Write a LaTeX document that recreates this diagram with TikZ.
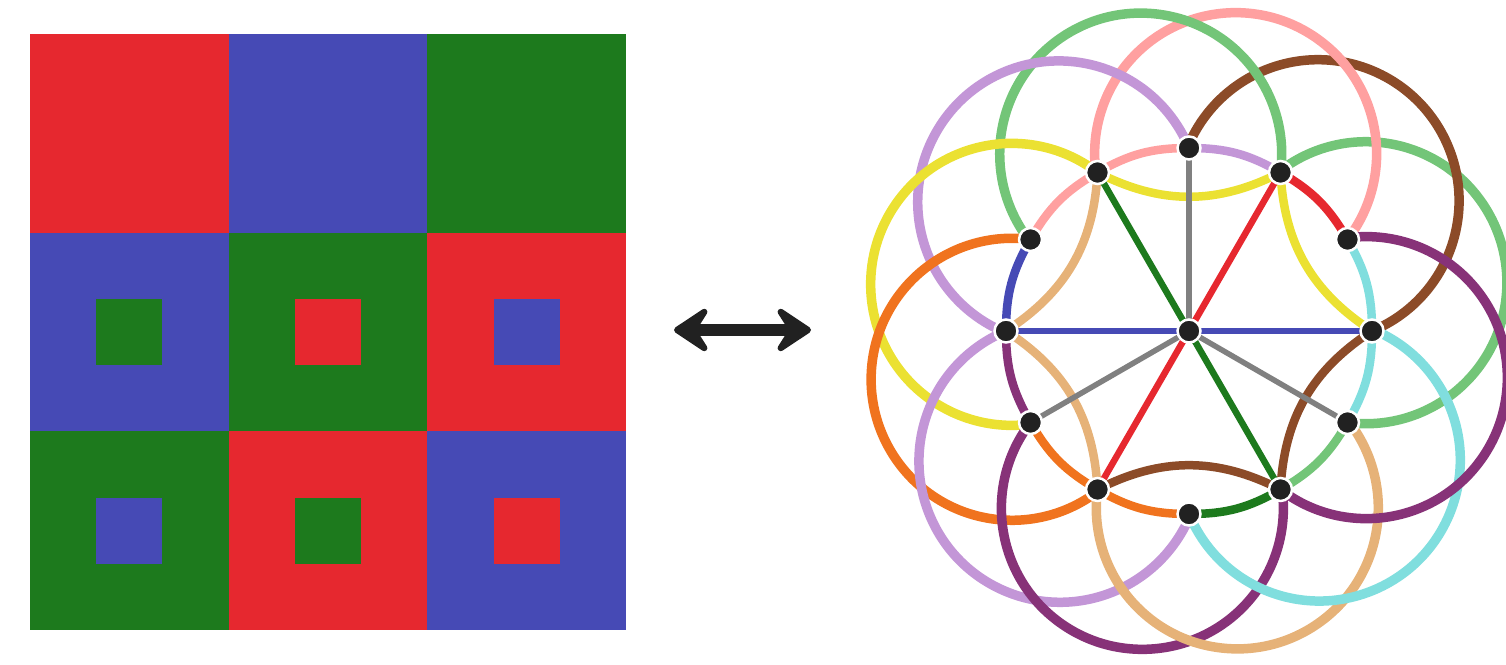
\documentclass[tikz,border=0pt]{standalone}
\usepackage{tikz}
\usetikzlibrary{calc, arrows.meta}
\usepackage{xcolor}

\definecolor{gridred}{RGB}{230,40,47}
\definecolor{gridblue}{RGB}{70,74,181}
\definecolor{gridgreen}{RGB}{29,122,29}
\definecolor{lgreen}{RGB}{115,197,120}
\definecolor{lpink}{RGB}{255,160,160}
\definecolor{lbrown}{RGB}{140,75,40}
\definecolor{dpurple}{RGB}{135,50,120}
\definecolor{lcyan}{RGB}{128,222,222}
\definecolor{ltan}{RGB}{230,178,120}
\definecolor{lpurple}{RGB}{195,150,215}
\definecolor{lorange}{RGB}{240,115,30}
\definecolor{lyellow}{RGB}{235,225,50}

\begin{document}
\begin{tikzpicture}[
    x=0.02cm, y=0.02cm,
    % Define styles for the points and the lines
    dot/.style={circle, fill=black!87, draw=white, line width=0.05cm, inner sep=0pt, minimum size=0.46cm},
    ring/.style={line width=0.19cm},
    chord/.style={line width=0.17cm},
    spoke/.style={line width=0.13cm}
]
    \useasboundingbox (0,0) rectangle (1506,665);

    % The 3x3 grid of coloured squares
    \def\cs{198.67}
    \foreach \c/\col in {0/gridred, 1/gridblue, 2/gridgreen} {
        \fill[\col] ({30+\c*\cs}, {631-\cs}) rectangle ++(\cs,\cs);
    }
    \foreach \r/\c/\outer/\inner in {1/0/gridblue/gridgreen, 1/1/gridgreen/gridred, 1/2/gridred/gridblue,
                                     2/0/gridgreen/gridblue, 2/1/gridred/gridgreen, 2/2/gridblue/gridred} {
        \fill[\outer] ({30+\c*\cs}, {631-(\r+1)*\cs}) rectangle ++(\cs,\cs);
        \fill[\inner] ({30+\c*\cs+\cs/3}, {631-(\r+1)*\cs+\cs/3}) rectangle ++({\cs/3},{\cs/3});
    }

    % The double arrow
    \coordinate (la) at (674,335);
    \coordinate (ra) at (811,335);
    \draw[line width=0.24cm, black!87, {Stealth[length=0.86cm, width=1.14cm, inset=0.36cm, round]}-{Stealth[length=0.86cm, width=1.14cm, inset=0.36cm, round]}] (la) -- (ra);

    % Centre and radius of the point circle, radius of the big rings
    \coordinate (c) at (1189,334);
    \def\R{183}
    \def\rr{141}
    \foreach \a in {0,30,...,330} {
        \coordinate (p\a) at ($(c)+(\a:\R)$);
    }

    % Big rings: centred between two points, through the points at +-45 degrees
    \foreach \th/\col in {15/lgreen, 45/lbrown, 75/lpink, 105/lgreen, 135/lpurple, 165/lyellow,
                          195/lorange, 225/lpurple, 255/dpurple, 285/ltan, 315/lcyan, 345/dpurple} {
        \pgfmathtruncatemacro{\s}{mod(\th+315,360)}
        \draw[ring, \col] (p\s) arc[start angle=\th-112.5, end angle=\th+112.5, radius=\rr];
    }

    % Short arcs between neighbouring points
    \foreach \a/\b/\col in {0/30/lcyan, 30/60/gridred, 60/90/lpurple, 90/120/lpink, 120/150/lpink, 150/180/gridblue,
                            180/210/dpurple, 210/240/lorange, 240/270/lorange, 270/300/gridgreen, 300/330/lgreen, 330/0/lcyan} {
        \draw[chord, \col] (p\a) to[bend right=15] (p\b);
    }

    % Inner arcs between points two steps apart
    \foreach \a/\b/\col in {0/60/lyellow, 60/120/lyellow, 120/180/ltan, 180/240/ltan, 240/300/lbrown, 300/0/lbrown} {
        \draw[chord, \col] (p\a) to[bend left=27] (p\b);
    }

    % Straight lines through the centre
    \draw[spoke, gridblue] (p180) -- (p0);
    \draw[spoke, gridred] (p240) -- (p60);
    \draw[spoke, gridgreen] (p120) -- (p300);
    \foreach \a in {90,210,330} {
        \draw[spoke, gray, line width=0.11cm] (c) -- (p\a);
    }

    % The thirteen points
    \node[dot] (dc) at (c) {};
    \foreach \a in {0,30,...,330} {
        \node[dot] (d\a) at (p\a) {};
    }
\end{tikzpicture}
\end{document}
